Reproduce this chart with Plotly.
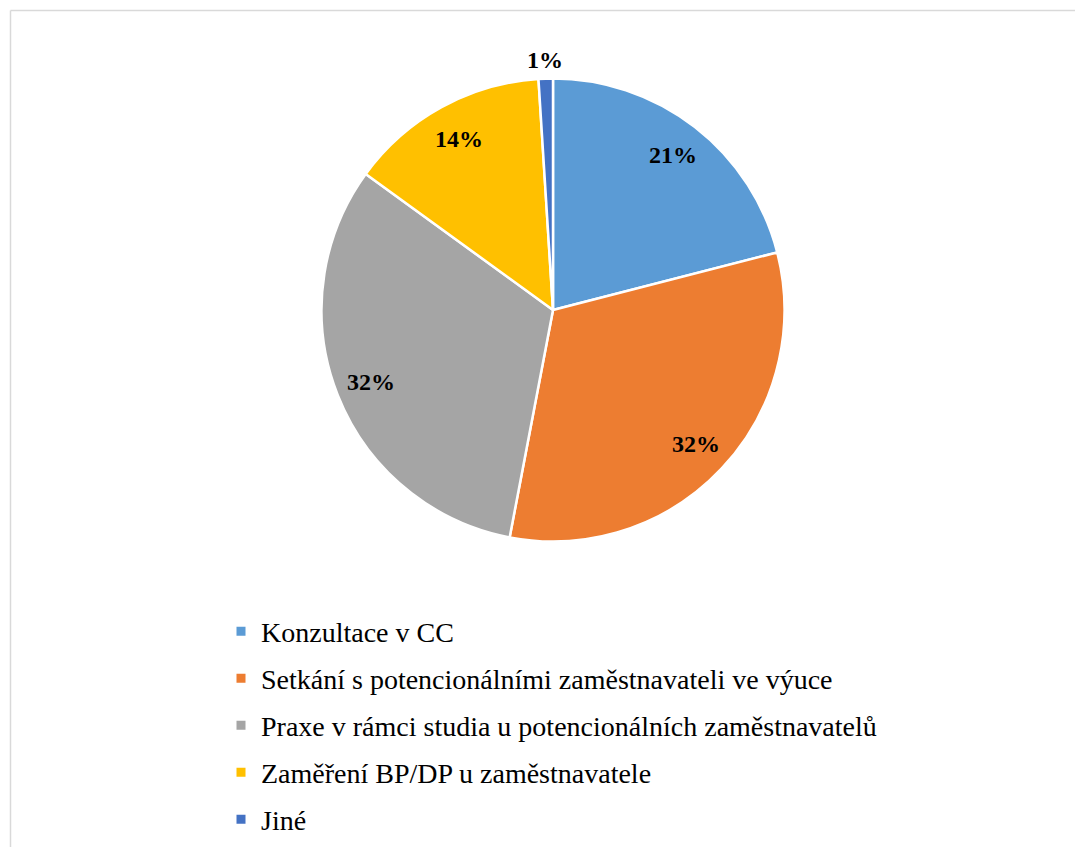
import math
import plotly.graph_objects as go

categories = [
    "Konzultace v CC",
    "Setkání s potencionálními zaměstnavateli ve výuce",
    "Praxe v rámci studia u potencionálních zaměstnavatelů",
    "Zaměření BP/DP u zaměstnavatele",
    "Jiné",
]
values = [21, 32, 32, 14, 1]
colors = ["#5B9BD5", "#ED7D31", "#A5A5A5", "#FFC000", "#4472C4"]
label_outside = [False, False, False, False, True]

# page has an 8px body margin, so the figure is drawn 8px in
OFF = 8
W, H = 1083 - OFF, 847 - OFF
cx, cy, r = 553 - OFF, 310 - OFF, 231.5
FONT = "Liberation Serif, Times New Roman, serif"


def px(x):
    return x / W


def py(y):
    return 1 - y / H


fig = go.Figure()
fig.add_trace(go.Pie(
    labels=categories,
    values=values,
    sort=False,
    direction="clockwise",
    rotation=0,
    marker=dict(colors=colors, line=dict(color="white", width=2.5)),
    textinfo="none",
    showlegend=False,
    domain=dict(x=[px(cx - r), px(cx + r)], y=[py(cy + r), py(cy - r)]),
    hoverinfo="label+percent",
))

# data labels at Excel "best fit"-like positions, derived from the values
total = sum(values)
annotations = []
cum = 0
for v, outside in zip(values, label_outside):
    mid = (cum + v / 2) / total * 2 * math.pi
    cum += v
    d = r * (1.08 if outside else 0.845)
    annotations.append(dict(
        x=px(cx + d * math.sin(mid)), y=py(cy - d * math.cos(mid)),
        xref="paper", yref="paper", showarrow=False,
        text=f"{round(v / total * 100)}%",
        font=dict(family=FONT, size=24, color="black", weight="bold"),
        xanchor="center", yanchor="middle",
    ))

# legend entries (one group per category to get Excel-like spacing)
for name, col in zip(categories, colors):
    fig.add_trace(go.Scatter(
        x=[None], y=[None], mode="markers", name=name,
        marker=dict(symbol="square", size=9, color=col),
        legendgroup=name, showlegend=True, hoverinfo="skip",
    ))

fig.update_layout(
    width=W, height=H,
    margin=dict(l=0, r=0, t=0, b=0),
    paper_bgcolor="white", plot_bgcolor="white",
    xaxis=dict(visible=False), yaxis=dict(visible=False),
    legend=dict(
        x=px(213), xanchor="left", y=py(598.5), yanchor="top",
        font=dict(family=FONT, size=28, color="black"),
        tracegroupgap=7.6, bgcolor="rgba(0,0,0,0)",
    ),
    annotations=annotations,
    shapes=[
        dict(type="line", xref="paper", yref="paper", x0=px(2.5), x1=1, y0=py(2.5), y1=py(2.5),
             line=dict(color="#D9D9D9", width=1.5)),
        dict(type="line", xref="paper", yref="paper", x0=px(2.5), x1=px(2.5), y0=0, y1=py(2.5),
             line=dict(color="#D9D9D9", width=1.5)),
    ],
)

fig.write_html("out.html")
